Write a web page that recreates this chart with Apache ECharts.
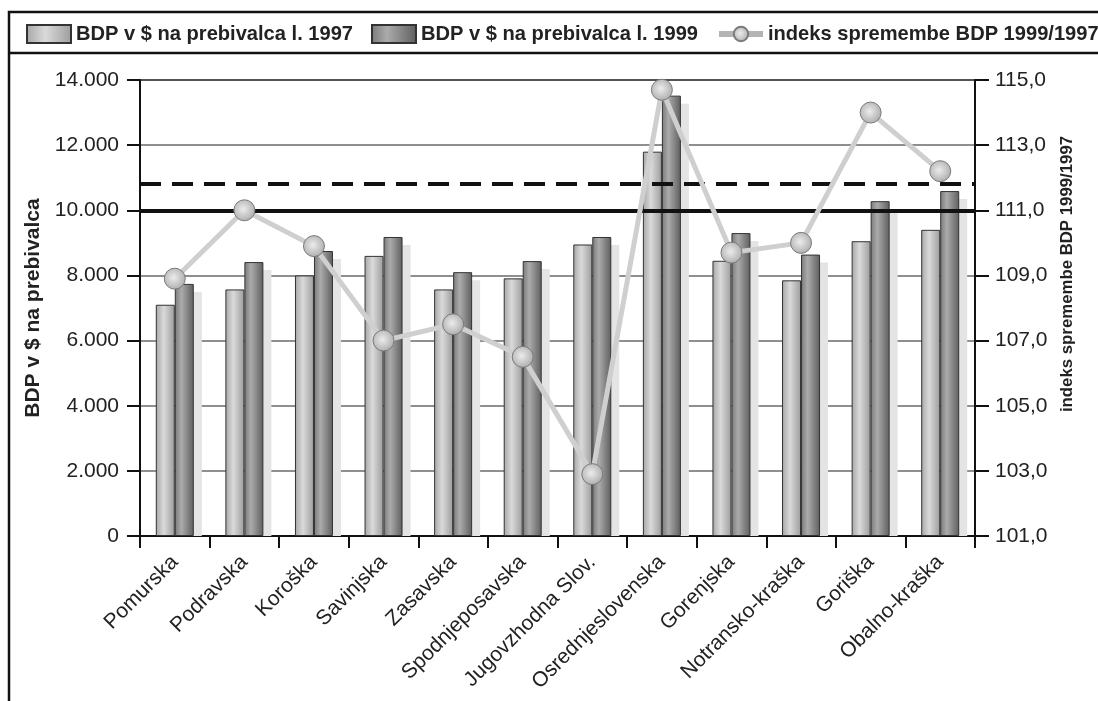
<!DOCTYPE html>
<html><head><meta charset="utf-8">
<script src="https://cdn.jsdelivr.net/npm/echarts@6/dist/echarts.min.js"></script>
<style>html,body{margin:0;padding:0;background:#fff}#c{width:1098px;height:701px}</style>
</head><body><div id="c"></div>
<script>
const categories = ['Pomurska', 'Podravska', 'Koroška', 'Savinjska', 'Zasavska', 'Spodnjeposavska',
  'Jugovzhodna Slov.', 'Osrednjeslovenska', 'Gorenjska', 'Notransko-kraška', 'Goriška', 'Obalno-kraška'];
const gdp1997 = [7100, 7570, 8000, 8600, 7570, 7910, 8950, 11800, 8450, 7850, 9050, 9400];
const gdp1999 = [7740, 8410, 8750, 9180, 8100, 8440, 9180, 13520, 9300, 8640, 10280, 10590];
const indexChange = [108.9, 111.0, 109.9, 107.0, 107.5, 106.5, 102.9, 114.7, 109.7, 110.0, 114.0, 112.2];
const leftAxisTicks = [0, 2000, 4000, 6000, 8000, 10000, 12000, 14000];
const rightAxisTicks = [101, 103, 105, 107, 109, 111, 113, 115];
const refSolid = 10000;
const refDashed = 10800;
const seriesNames = ['BDP v $ na prebivalca l. 1997', 'BDP v $ na prebivalca l. 1999', 'indeks spremembe BDP 1999/1997'];
const leftAxisName = 'BDP v $ na prebivalca';
const rightAxisName = 'indeks spremembe BDP 1999/1997';

const FONT = "'Liberation Sans', Arial, Helvetica, sans-serif";
const chart = echarts.init(document.getElementById('c'), null, {renderer: 'canvas'});

function fmtThousands(v) {
  if (v < 1000) return String(v);
  return Math.floor(v / 1000) + '.' + String(v % 1000).padStart(3, '0');
}
function grad(stops) {
  return {type: 'linear', x: 0, y: 0, x2: 1, y2: 0,
    colorStops: stops.map(s => ({offset: s[0], color: s[1]}))};
}
const BAR_W = 19;
const markerFill = {type: 'radial', x: 0.45, y: 0.45, r: 0.6,
  colorStops: [{offset: 0, color: '#ececec'}, {offset: 1, color: '#a9a9a9'}]};

const option = {
  backgroundColor: '#fff',
  animation: false,
  textStyle: {fontFamily: FONT},
  grid: {left: 140, right: 123, top: 80, bottom: 165, show: true,
    borderColor: '#111', borderWidth: 2, backgroundColor: 'transparent'},
  legend: {
    left: 21, top: 19, width: 1400, itemWidth: 44, itemHeight: 18, itemGap: 18,
    textStyle: {fontFamily: FONT, fontWeight: 'bold', fontSize: 20.1, color: '#222'},
    data: [
      {name: seriesNames[0], icon: 'rect'},
      {name: seriesNames[1], icon: 'rect'},
      {name: seriesNames[2], lineStyle: {width: 6, color: '#b4b4b4'}}
    ]
  },
  graphic: [
    {type: 'rect', z: 100, silent: true, shape: {x: 9, y: 12, width: 1300, height: 900},
      style: {fill: 'none', stroke: '#111', lineWidth: 2.5}},
    {type: 'line', z: 100, silent: true, shape: {x1: 9, y1: 53, x2: 1098, y2: 53},
      style: {stroke: '#111', lineWidth: 2.5}}
  ],
  xAxis: {
    type: 'category', data: categories,
    axisLine: {lineStyle: {color: '#111', width: 2}},
    axisTick: {show: true, length: 12, lineStyle: {color: '#111', width: 2}},
    axisLabel: {rotate: 45, fontSize: 21, color: '#222', margin: 23, fontFamily: FONT, interval: 0}
  },
  yAxis: [
    {
      type: 'value', min: 0, max: 14000, interval: 2000,
      name: leftAxisName, nameLocation: 'middle', nameGap: 83,
      nameTextStyle: {fontFamily: FONT, fontWeight: 'bold', fontSize: 21, color: '#222'},
      axisLine: {show: true, lineStyle: {color: '#111', width: 2}},
      axisTick: {show: true, length: 13, lineStyle: {color: '#111', width: 2}},
      axisLabel: {fontSize: 21, color: '#222', margin: 21, fontFamily: FONT,
        customValues: leftAxisTicks, formatter: v => fmtThousands(v)},
      splitLine: {show: true, lineStyle: {color: '#6a6a6a', width: 1.5}}
    },
    {
      type: 'value', min: 101, max: 115, interval: 2,
      name: rightAxisName, nameLocation: 'middle', nameGap: 84,
      nameTextStyle: {fontFamily: FONT, fontWeight: 'bold', fontSize: 16.8, color: '#222',
        padding: [0, 0, 0, 68]},
      axisLine: {show: true, lineStyle: {color: '#111', width: 2}},
      axisTick: {show: true, length: 14, lineStyle: {color: '#111', width: 2}, customValues: rightAxisTicks},
      axisLabel: {fontSize: 21, color: '#222', margin: 20, fontFamily: FONT,
        customValues: rightAxisTicks, formatter: v => v.toFixed(1).replace('.', ',')},
      splitLine: {show: false}
    }
  ],
  series: [
    {
      name: 'shadow', type: 'custom', z: 1, silent: true,
      data: gdp1999.map((v, i) => [i, v]),
      renderItem: function (params, api) {
        const top = api.coord([api.value(0), api.value(1)]);
        const base = api.coord([api.value(0), 0]);
        return {type: 'rect', shape: {x: top[0] + 8, y: top[1] + 8, width: BAR_W, height: base[1] - top[1] - 8},
          style: {fill: '#e4e4e4'}};
      }
    },
    {
      name: seriesNames[0], type: 'bar', data: gdp1997, barWidth: BAR_W, barGap: '0%', z: 3,
      itemStyle: {color: grad([[0, '#a6a6a6'], [0.42, '#dadada'], [1, '#9c9c9c']]),
        borderColor: '#333', borderWidth: 1}
    },
    {
      name: seriesNames[1], type: 'bar', data: gdp1999, barWidth: BAR_W, barGap: '0%', z: 3,
      itemStyle: {color: grad([[0, '#7a7a7a'], [0.35, '#ababab'], [1, '#5e5e5e']]),
        borderColor: '#333', borderWidth: 1},
      markLine: {
        silent: true, symbol: 'none', z: 10,
        label: {show: false},
        lineStyle: {color: '#111', width: 4, type: 'solid', opacity: 1},
        emphasis: {disabled: true},
        data: [
          {yAxis: refSolid, lineStyle: {color: '#111', width: 4, type: 'solid'}},
          {yAxis: refDashed, lineStyle: {color: '#111', width: 4, type: [21, 11]}}
        ]
      }
    },
    {
      name: seriesNames[2], type: 'line', yAxisIndex: 1, data: indexChange, z: 15,
      symbol: 'circle', symbolSize: 21,
      lineStyle: {color: '#cfcfcf', width: 5},
      itemStyle: {color: markerFill, borderColor: '#7a7a7a', borderWidth: 1}
    }
  ]
};
chart.setOption(option);
</script>
</body></html>
